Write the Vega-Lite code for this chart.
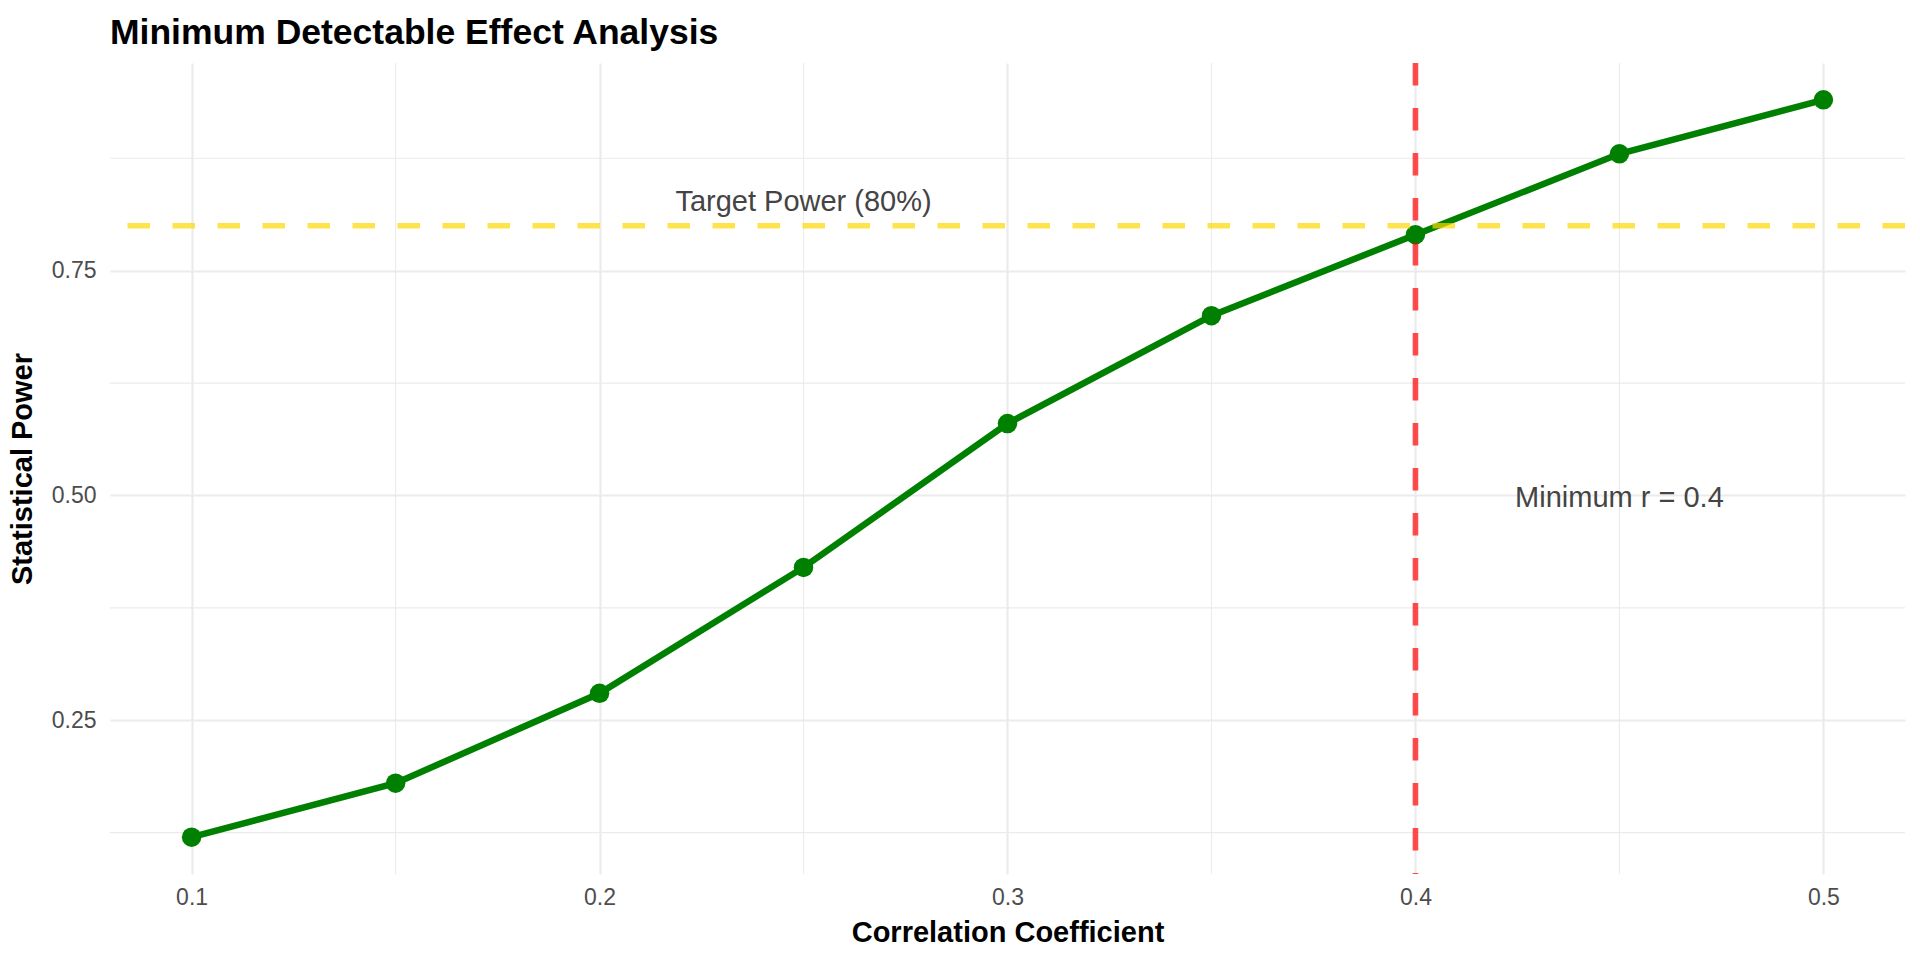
{
  "$schema": "https://vega.github.io/schema/vega-lite/v6.json",
  "width": 1795,
  "height": 811,
  "autosize": {"type": "none"},
  "padding": {"left": 110, "top": 63, "right": 15, "bottom": 86},
  "background": "white",
  "config": {
    "view": {"stroke": null},
    "font": "Liberation Sans",
    "axis": {
      "domain": false,
      "ticks": false,
      "tickSize": 0,
      "labelFont": "Liberation Sans",
      "labelFontSize": 23,
      "labelColor": "#4D4D4D",
      "titleFont": "Liberation Sans",
      "titleFontSize": 29,
      "titleFontWeight": "bold",
      "titleColor": "#000000",
      "gridColor": "#EBEBEB",
      "gridWidth": 2.2
    }
  },
  "title": {
    "text": "Minimum Detectable Effect Analysis",
    "anchor": "start",
    "frame": "group",
    "font": "Liberation Sans",
    "fontSize": 35.5,
    "fontWeight": "bold",
    "color": "#000000",
    "baseline": "alphabetic",
    "offset": 22,
    "dy": 41
  },
  "datasets": {
    "power": [
      {"r": 0.10, "power": 0.12},
      {"r": 0.15, "power": 0.18},
      {"r": 0.20, "power": 0.28},
      {"r": 0.25, "power": 0.42},
      {"r": 0.30, "power": 0.58},
      {"r": 0.35, "power": 0.70},
      {"r": 0.40, "power": 0.79},
      {"r": 0.45, "power": 0.88},
      {"r": 0.50, "power": 0.94}
    ],
    "minorx": [{"r": 0.15}, {"r": 0.25}, {"r": 0.35}, {"r": 0.45}],
    "minory": [{"power": 0.125}, {"power": 0.375}, {"power": 0.625}, {"power": 0.875}],
    "target": [{"power": 0.8, "label": "Target Power (80%)", "r": 0.25, "ly": 0.83}],
    "minr": [{"r": 0.4, "label": "Minimum r = 0.4", "lx": 0.45, "ly": 0.5}]
  },
  "layer": [
    {
      "data": {"name": "minorx"},
      "mark": {"type": "rule", "color": "#EBEBEB", "strokeWidth": 1.1},
      "encoding": {
        "x": {"field": "r", "type": "quantitative", "scale": {"domain": [0.08, 0.52], "nice": false, "zero": false},
              "axis": {"values": [0.1, 0.2, 0.3, 0.4, 0.5], "format": ".1f", "title": "Correlation Coefficient", "grid": true, "labelPadding": 12, "titlePadding": 9}}
      }
    },
    {
      "data": {"name": "minory"},
      "mark": {"type": "rule", "color": "#EBEBEB", "strokeWidth": 1.1},
      "encoding": {
        "y": {"field": "power", "type": "quantitative", "scale": {"domain": [0.079, 0.981], "nice": false, "zero": false},
              "axis": {"values": [0.25, 0.5, 0.75], "format": ".2f", "title": "Statistical Power", "grid": true, "labelPadding": 14, "titlePadding": 14}}
      }
    },
    {
      "data": {"name": "power"},
      "mark": {"type": "line", "color": "#008000", "strokeWidth": 6.5},
      "encoding": {
        "x": {"field": "r", "type": "quantitative"},
        "y": {"field": "power", "type": "quantitative"}
      }
    },
    {
      "data": {"name": "power"},
      "mark": {"type": "circle", "color": "#008000", "opacity": 1, "size": 380},
      "encoding": {
        "x": {"field": "r", "type": "quantitative"},
        "y": {"field": "power", "type": "quantitative"}
      }
    },
    {
      "data": {"name": "target"},
      "mark": {"type": "rule", "color": "#FFD700", "strokeOpacity": 0.7, "strokeWidth": 5.6, "strokeDash": [22.5, 22.5]},
      "encoding": {
        "y": {"field": "power", "type": "quantitative"}
      }
    },
    {
      "data": {"name": "minr"},
      "mark": {"type": "rule", "color": "#FF0000", "strokeOpacity": 0.7, "strokeWidth": 5.6, "strokeDash": [22.5, 22.5]},
      "encoding": {
        "x": {"field": "r", "type": "quantitative"}
      }
    },
    {
      "data": {"name": "target"},
      "mark": {"type": "text", "font": "Liberation Sans", "fontSize": 29, "color": "#444444", "align": "center", "baseline": "middle", "dy": 3},
      "encoding": {
        "x": {"field": "r", "type": "quantitative"},
        "y": {"field": "ly", "type": "quantitative"},
        "text": {"field": "label"}
      }
    },
    {
      "data": {"name": "minr"},
      "mark": {"type": "text", "font": "Liberation Sans", "fontSize": 29, "color": "#444444", "align": "center", "baseline": "middle", "dy": 3},
      "encoding": {
        "x": {"field": "lx", "type": "quantitative"},
        "y": {"field": "ly", "type": "quantitative"},
        "text": {"field": "label"}
      }
    }
  ]
}
